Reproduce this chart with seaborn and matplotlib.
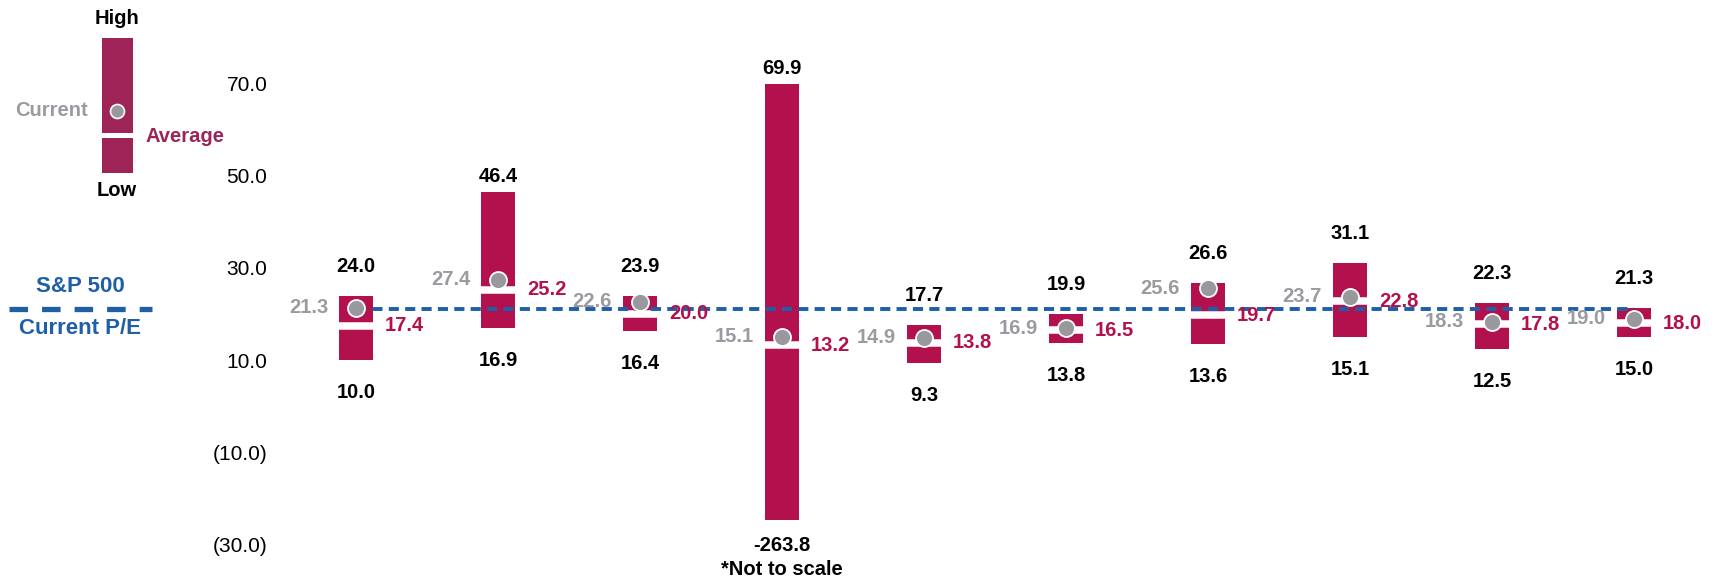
import numpy as np
import pandas as pd
import matplotlib
matplotlib.use("Agg")
import matplotlib.pyplot as plt
from matplotlib.patches import Rectangle
from matplotlib.ticker import FuncFormatter
import seaborn as sns

# ---------------- data ----------------
categories = ["Sector 1", "Sector 2", "Sector 3", "Sector 4", "Sector 5",
              "Sector 6", "Sector 7", "Sector 8", "Sector 9", "Sector 10"]
high = [24.0, 46.4, 23.9, 69.9, 17.7, 19.9, 26.6, 31.1, 22.3, 21.3]
low = [10.0, 16.9, 16.4, -263.8, 9.3, 13.8, 13.6, 15.1, 12.5, 15.0]
current = [21.3, 27.4, 22.6, 15.1, 14.9, 16.9, 25.6, 23.7, 18.3, 19.0]
average = [17.4, 25.2, 20.0, 13.2, 13.8, 16.5, 19.7, 22.8, 17.8, 18.0]
sp500_current_pe = 21.0
y_ticks = [70, 50, 30, 10, -10, -30]
display_floor = -24.6          # lows beyond this are drawn "not to scale"

# ---------------- style ----------------
CRIMSON = "#B3114E"
LEGEND_MAROON = "#9E2457"
GRAY = "#98989D"
GRAY_TXT = "#9A9AA0"
BLUE = "#1E5FA7"
PX = 0.72  # points per pixel at dpi 100

sns.set_theme(style="white")
plt.rcParams["font.family"] = ["Liberation Sans", "DejaVu Sans"]

W, H = 1718, 579
fig = plt.figure(figsize=(W / 100, H / 100), dpi=100)
ax_left_px = 280
ax = fig.add_axes([ax_left_px / W, 0, 1 - ax_left_px / W, 1])

n = len(categories)
pos = np.arange(n)
high_a = np.array(high)
low_a = np.array(low)
drawn_low = np.maximum(low_a, display_floor)
bar_w = 0.245

df = pd.DataFrame({"category": categories, "span": high_a - drawn_low})
sns.barplot(data=df, x="category", y="span", bottom=drawn_low, color=CRIMSON,
            saturation=1, width=bar_w, errorbar=None, linewidth=0, zorder=1, ax=ax)

# average gaps
ax.hlines(average, pos - bar_w / 2 - 0.005, pos + bar_w / 2 + 0.005,
          color="white", lw=7.5 * PX, zorder=2)

# S&P 500 line
ax.plot([pos[0], pos[-1]], [sp500_current_pe] * 2, color=BLUE, lw=3.9 * PX,
        dashes=(2.6, 1.6), zorder=3)

# current markers
sns.scatterplot(x=pos, y=current, s=(17 * PX) ** 2, color=GRAY,
                edgecolor="white", linewidth=1.3, zorder=4, ax=ax, legend=False)

# labels
fs = 14.5
for i in range(n):
    gap_hi = 10 if high[i] > 40 else 24
    ax.annotate(f"{high[i]:.1f}", (pos[i], high[i]), xytext=(0, gap_hi * PX),
                textcoords="offset points", ha="center", va="baseline",
                fontsize=fs, fontweight="bold", color="black", zorder=5)
    clipped = low[i] < display_floor
    gap_lo = 31 if clipped else 38
    ax.annotate(f"{low[i]:.1f}", (pos[i], drawn_low[i]), xytext=(0, -gap_lo * PX),
                textcoords="offset points", ha="center", va="baseline",
                fontsize=fs, fontweight="bold", color="black", zorder=5)
    if clipped:
        ax.annotate("*Not to scale", (pos[i], drawn_low[i]),
                    xytext=(0, -(gap_lo + 24) * PX), textcoords="offset points",
                    ha="center", va="baseline", fontsize=fs, fontweight="bold",
                    color="black", zorder=5)
    ax.annotate(f"{current[i]:.1f}", (pos[i], current[i]), xytext=(-28 * PX, 0),
                textcoords="offset points", ha="right", va="center",
                fontsize=fs, fontweight="bold", color=GRAY_TXT, zorder=5)
    ax.annotate(f"{average[i]:.1f}", (pos[i], average[i]), xytext=(29 * PX, 0),
                textcoords="offset points", ha="left", va="center",
                fontsize=fs, fontweight="bold", color=CRIMSON, zorder=5)

# axes
ax.set_xlim((ax_left_px - 356) / 142, (W - 356) / 142)
ax.set_ylim(-37.4, 88.0)
ax.set_yticks(y_ticks)
ax.yaxis.set_major_formatter(FuncFormatter(
    lambda v, p: f"({abs(v):.1f})" if v < 0 else f"{v:.1f}"))
ax.tick_params(axis="y", length=0, labelsize=15, pad=9, labelcolor="black")
ax.set_xticks([])
ax.set_xlabel("")
ax.set_ylabel("")
for s in ax.spines.values():
    s.set_visible(False)
ax.set_facecolor("none")

# ---------------- legend (pixel coordinates) ----------------
lax = fig.add_axes([0, 0, 1, 1], zorder=-1)
lax.set_xlim(0, W)
lax.set_ylim(H, 0)
lax.axis("off")

lax.add_patch(Rectangle((102, 38), 31, 135, color=LEGEND_MAROON, lw=0))
lax.plot([102, 133], [135, 135], color="white", lw=5 * PX)
lax.scatter([116.5], [111], s=(14 * PX) ** 2, color=GRAY, edgecolor="white",
            linewidth=1.2, zorder=3)
lax.text(117, 18, "High", ha="center", va="center", fontsize=14.5,
         fontweight="bold", color="black")
lax.text(117, 190, "Low", ha="center", va="center", fontsize=14.5,
         fontweight="bold", color="black")
lax.text(88, 111, "Current", ha="right", va="center", fontsize=14.5,
         fontweight="bold", color=GRAY_TXT)
lax.text(146, 136, "Average", ha="left", va="center", fontsize=14.5,
         fontweight="bold", color=LEGEND_MAROON)

lw_leg = 5.3 * PX
lax.plot([9, 152], [309, 309], color=BLUE, lw=lw_leg, dashes=(3.5, 2.64),
         dash_capstyle="butt")
lax.text(80, 286, "S&P 500", ha="center", va="center", fontsize=16,
         fontweight="bold", color=BLUE)
lax.text(80, 329, "Current P/E", ha="center", va="center", fontsize=16,
         fontweight="bold", color=BLUE)

fig.savefig("out.png", dpi=100)
